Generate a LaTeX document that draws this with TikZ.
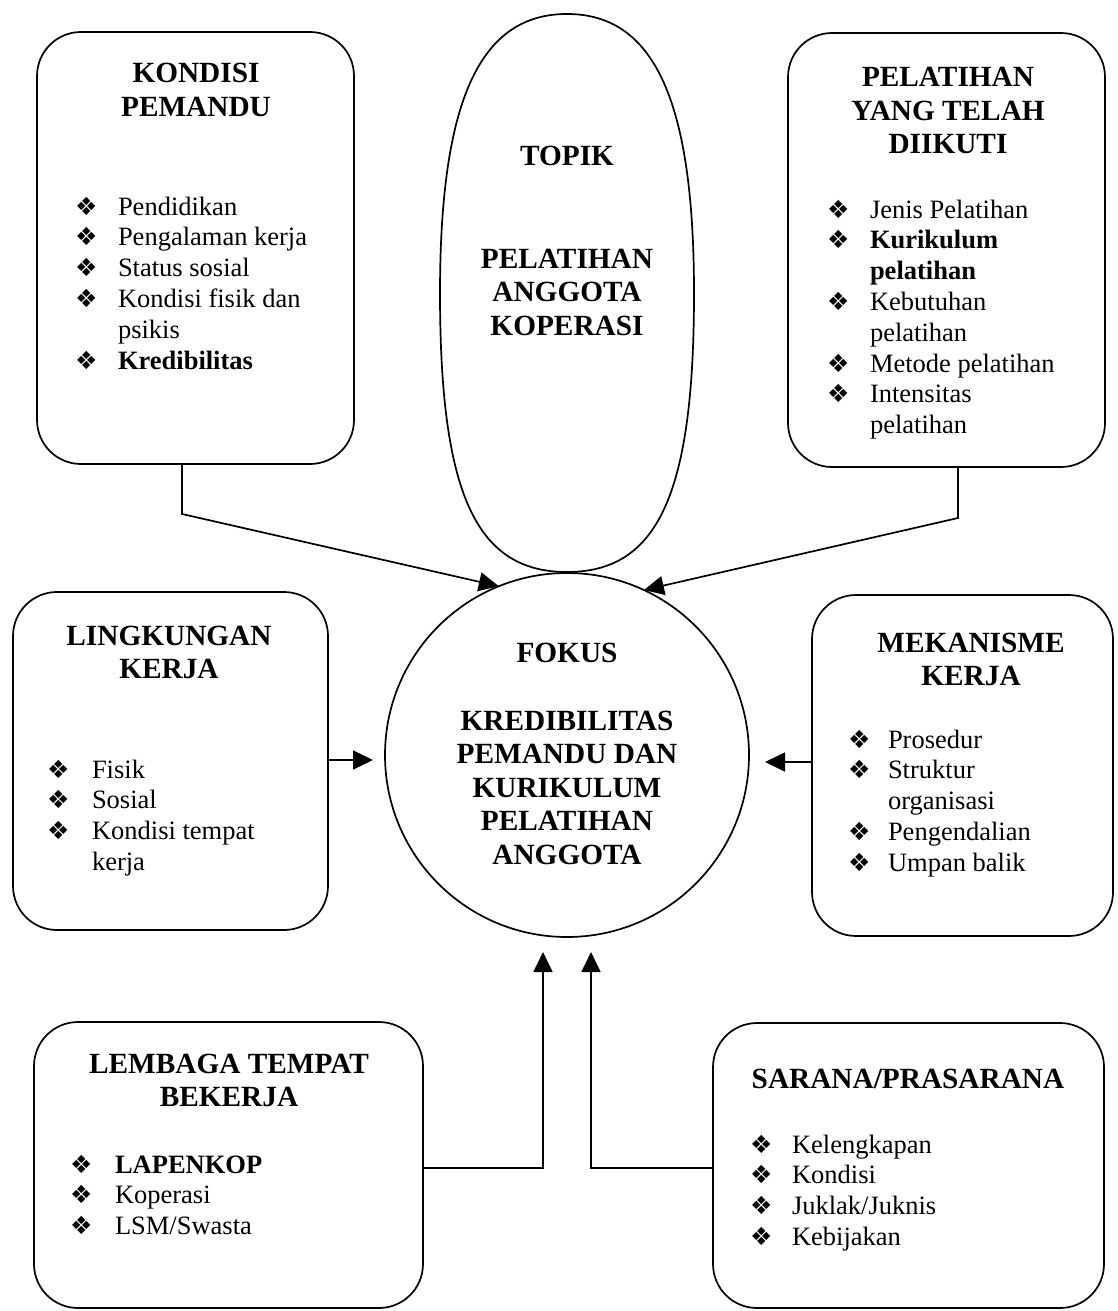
\documentclass[tikz,border=0pt]{standalone}
\usepackage{fontspec}
\setmainfont{Liberation Serif}
\newfontfamily\djv{DejaVu Sans}
\usetikzlibrary{arrows.meta,shapes.geometric}
\newcommand\mybul{{\djv\fontsize{25}{25}\selectfont ❖}}
\newcommand\blist[2]{\begin{tabular}[t]{@{}p{#1}@{}l@{}}#2\end{tabular}}
\newcommand\tlist[1]{\begin{tabular}[t]{@{}c@{}}#1\end{tabular}}
\begin{document}
\begin{tikzpicture}[x=1pt,y=-1pt,
 ln/.style={line width=1.7pt},
 rbox/.style={draw, line width=1.7pt, rounded corners=44pt, inner sep=0pt, outer sep=0pt},
 ttl/.style={inner sep=0pt, outer sep=0pt, anchor=base, font=\fontsize{29.3}{33.5}\selectfont\bfseries},
 lst/.style={inner sep=0pt, outer sep=0pt, anchor=base west, font=\fontsize{26.5}{30.8}\selectfont},
 arr/.style={line width=1.7pt, -{Triangle[length=20pt,width=19pt]}},
]
\useasboundingbox (0,0) rectangle (1118,1311);

% boxes
\node[rbox, minimum width=317pt, minimum height=432pt] (k1) at (195.5,248) {};
\node[rbox, minimum width=317pt, minimum height=434pt] (k2) at (946.5,250) {};
\node[rbox, minimum width=315pt, minimum height=338pt] (k3) at (170.5,761) {};
\node[rbox, minimum width=301pt, minimum height=341pt] (k4) at (962.5,765.5) {};
\node[rbox, minimum width=389pt, minimum height=286pt] (k5) at (228.5,1165) {};
\node[rbox, minimum width=391pt, minimum height=285pt] (k6) at (908.5,1165.5) {};

% ellipse and circle
\node[ellipse, minimum width=254pt, minimum height=558pt, inner sep=0pt, outer sep=0pt] (topik) at (567,293) {};
\draw[ln] (topik.east) .. controls +(0,-195) and +(86,0) .. (topik.north)
          .. controls +(-86,0) and +(0,-195) .. (topik.west)
          .. controls +(0,201) and +(-91,0) .. (topik.south)
          .. controls +(91,0) and +(0,201) .. (topik.east) -- cycle;
\node[circle, draw, line width=1.7pt, minimum size=364pt, inner sep=0pt, outer sep=0pt] (fokus) at (567,755) {};

% titles
\node[ttl] (k1t) at (196,83) {\tlist{KONDISI\\PEMANDU}};
\node[ttl] (k2t) at (948,87) {\tlist{PELATIHAN\\YANG TELAH\\DIIKUTI}};
\node[ttl] (k3t) at (169,645) {\tlist{LINGKUNGAN\\KERJA}};
\node[ttl] (k4t) at (971,652) {\tlist{MEKANISME\\KERJA}};
\node[ttl] (k5t) at (229,1073) {\tlist{LEMBAGA TEMPAT\\BEKERJA}};
\node[ttl] (k6t) at (908,1088) {SARANA/PRASARANA};
\node[ttl] (tp1) at (567,165) {TOPIK};
\node[ttl] (tp2) at (567,268) {\tlist{PELATIHAN\\ANGGOTA\\KOPERASI}};
\node[ttl] (fk1) at (567,662) {FOKUS};
\node[ttl] (fk2) at (567,730) {\tlist{KREDIBILITAS\\PEMANDU DAN\\KURIKULUM\\PELATIHAN\\ANGGOTA}};

% lists
\node[lst] (k1l) at (75,215) {\blist{43pt}{\mybul & Pendidikan\\ \mybul & Pengalaman kerja\\ \mybul & Status sosial\\ \mybul & Kondisi fisik dan\\ & psikis\\ \mybul & \textbf{Kredibilitas}}};
\node[lst] (k2l) at (827,218) {\blist{43pt}{\mybul & Jenis Pelatihan\\ \mybul & \textbf{Kurikulum}\\ & \textbf{pelatihan}\\ \mybul & Kebutuhan\\ & pelatihan\\ \mybul & Metode pelatihan\\ \mybul & Intensitas\\ & pelatihan}};
\node[lst] (k3l) at (47,778) {\blist{45pt}{\mybul & Fisik\\ \mybul & Sosial\\ \mybul & Kondisi tempat\\ & kerja}};
\node[lst] (k4l) at (848,748) {\blist{40pt}{\mybul & Prosedur\\ \mybul & Struktur\\ & organisasi\\ \mybul & Pengendalian\\ \mybul & Umpan balik}};
\node[lst] (k5l) at (70,1173) {\blist{45pt}{\mybul & \textbf{LAPENKOP}\\ \mybul & Koperasi\\ \mybul & LSM/Swasta}};
\node[lst] (k6l) at (750,1153) {\blist{42pt}{\mybul & Kelengkapan\\ \mybul & Kondisi\\ \mybul & Juklak/Juknis\\ \mybul & Kebijakan}};

% connectors
\coordinate (b1) at (182,514);
\draw[arr] (k1.south -| b1) -- (b1) -- (fokus.112.7);
\coordinate (b2) at (958,518);
\draw[arr] (k2.south -| b2) -- (b2) -- (fokus.65.7);
\coordinate (t3) at (373,760);
\draw[arr] (k3.east |- t3) -- (t3);
\coordinate (t4) at (765,762);
\draw[arr] (k4.west |- t4) -- (t4);
\coordinate (j5) at (543,1168);
\coordinate (t5) at (543,952);
\draw[arr] (k5.east |- j5) -- (j5) -- (t5);
\coordinate (j6) at (591,1168);
\coordinate (t6) at (591,952);
\draw[arr] (k6.west |- j6) -- (j6) -- (t6);
\end{tikzpicture}
\end{document}
